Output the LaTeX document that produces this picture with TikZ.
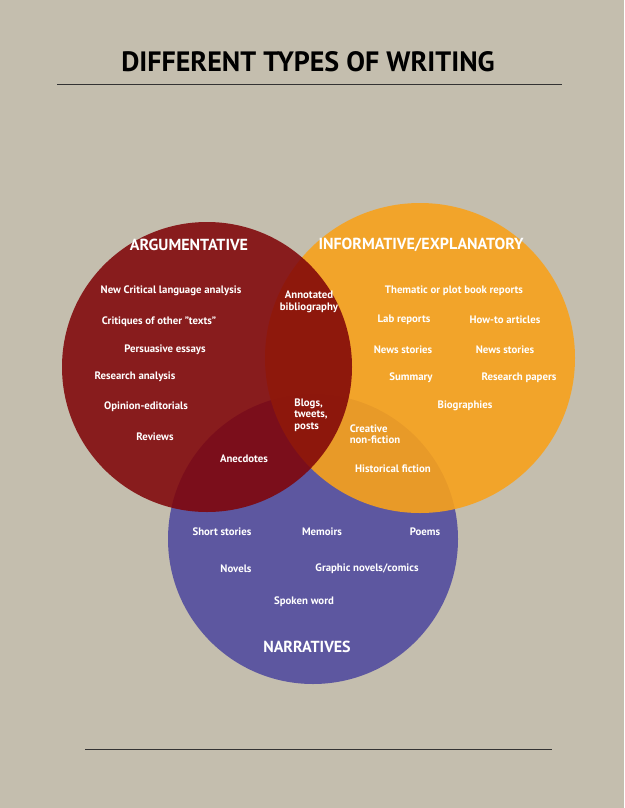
\documentclass[tikz,border=0pt]{standalone}
\usepackage{fontspec}
\setmainfont{PT Sans}
\usetikzlibrary{positioning}
\definecolor{paper}{RGB}{196,190,174}
\definecolor{argred}{RGB}{128,4,8}
\definecolor{infoorange}{RGB}{248,162,28}
\definecolor{narrblue}{RGB}{88,82,160}
\begin{document}
\begin{tikzpicture}[x=1pt,y=-1pt]
        \tikzset{item/.style={text=white,font=\bfseries\fontsize{10.8}{11.5}\selectfont,align=center,inner sep=1pt},
                 head/.style={text=white,font=\bfseries\fontsize{16}{17}\selectfont,inner sep=1pt},
                 rule/.style={draw=black!80,line width=0.6pt}}
        \fill[paper] (0,0) rectangle (624,808);
        \node[font=\bfseries\fontsize{28}{30}\selectfont] (title) at (308,62) {DIFFERENT TYPES OF WRITING};
        \coordinate (tl) at (57,84);
        \coordinate (tr) at (562,84);
        \coordinate (bl) at (85,749);
        \coordinate (br) at (552,749);
        \draw[rule] (tl) -- (tr);
        \draw[rule] (bl) -- (br);
        % circles
        \fill[narrblue,opacity=0.95] (313,539) circle (145);
        \fill[infoorange,opacity=0.9] (420,358) circle (155);
        \fill[argred,opacity=0.87] (207,367) circle (145);
        % headings
        \node[head] (arg) at (189,245) {ARGUMENTATIVE};
        \node[head] (info) at (421,245) {INFORMATIVE/EXPLANATORY};
        \node[head] (narr) at (307,647) {NARRATIVES};
        % argumentative
        \node[item] (a1) at (171,291) {New Critical language analysis};
        \node[item] (a2) at (159,322) {Critiques of other "texts"};
        \node[item] (a3) at (165,350) {Persuasive essays};
        \node[item] (a4) at (135,377) {Research analysis};
        \node[item] (a5) at (146,407) {Opinion-editorials};
        \node[item] (a6) at (155,437) {Reviews};
        % informative
        \node[item] (i1) at (454,291) {Thematic or plot book reports};
        \node[item] (i2) at (404,320) {Lab reports};
        \node[item] (i3) at (505,320) {How-to articles};
        \node[item] (i4) at (403,350) {News stories};
        \node[item] (i5) at (505,350) {News stories};
        \node[item] (i6) at (411,378) {Summary};
        \node[item] (i7) at (519,378) {Research papers};
        \node[item] (i8) at (465,406) {Biographies};
        % overlaps
        \node[item] (o1) at (309,302) {Annotated\\bibliography};
        \node[item,align=left] (o2) at (311,415) {Blogs,\\tweets,\\posts};
        \node[item,align=left] (o3) at (375,434) {Creative\\non-fiction};
        \node[item] (o4) at (393,469) {Historical fiction};
        \node[item] (o5) at (244,459) {Anecdotes};
        % narratives
        \node[item] (n1) at (222,532) {Short stories};
        \node[item] (n2) at (322,532) {Memoirs};
        \node[item] (n3) at (425,532) {Poems};
        \node[item] (n4) at (236,569) {Novels};
        \node[item] (n5) at (367,569) {Graphic novels/comics};
        \node[item] (n6) at (304,602) {Spoken word};
\end{tikzpicture}
\end{document}
